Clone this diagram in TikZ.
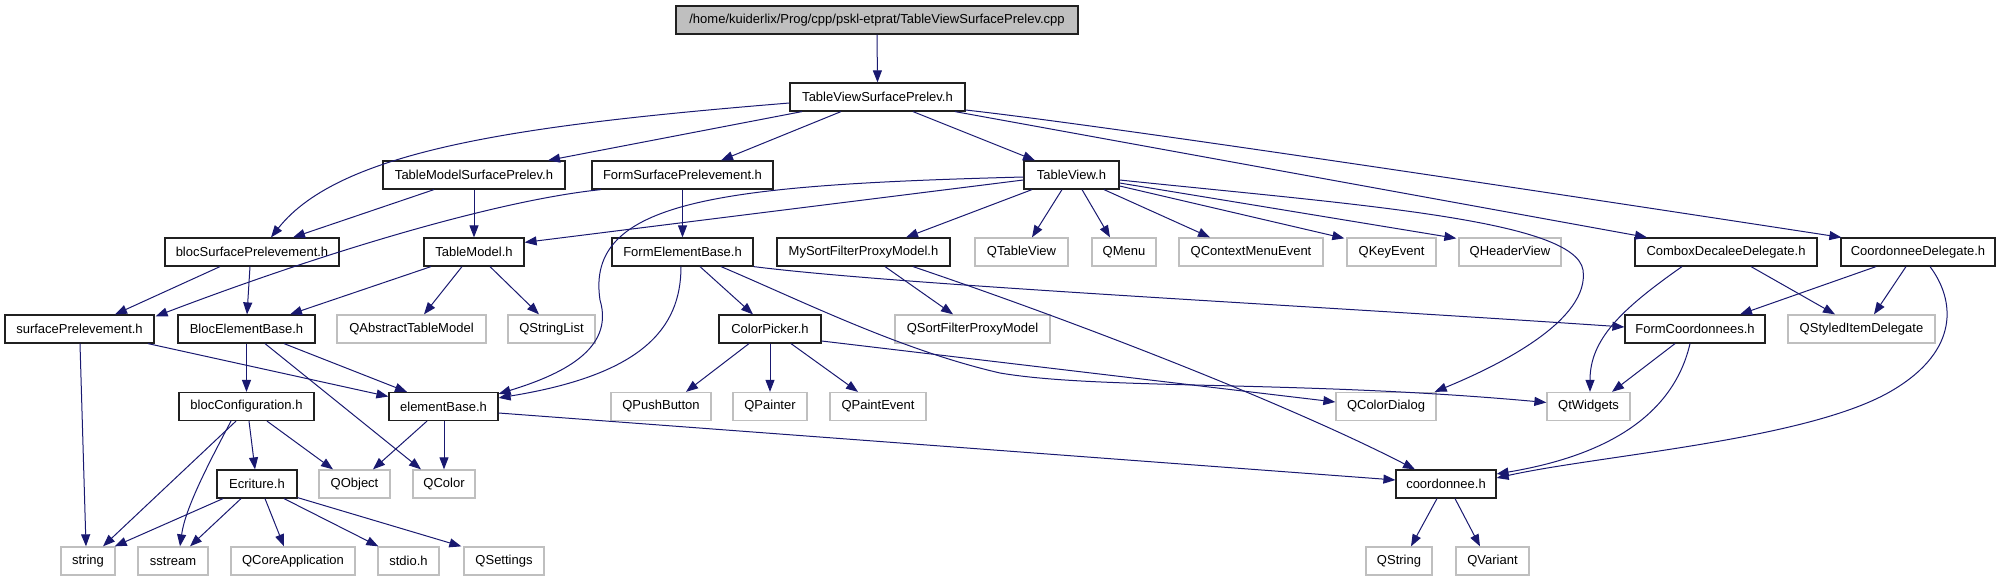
\documentclass[tikz,border=0pt]{standalone}
\usepackage{fontspec}
\newfontfamily\lab{Liberation Sans}
\usetikzlibrary{arrows.meta}
\definecolor{edgecol}{HTML}{191970}
\definecolor{gbord}{HTML}{BFBFBF}
\definecolor{bbord}{HTML}{202020}
\begin{document}
\begin{tikzpicture}[x=1pt,y=-1pt,
  base/.style={inner sep=0pt, minimum height=28pt, font=\lab\fontsize{13}{15}\selectfont, text=black},
  nb/.style={base, draw=bbord, line width=1.2pt, fill=white},
  ng/.style={base, draw=gbord, line width=1.3pt, fill=white},
  nroot/.style={base, draw=bbord, line width=1.2pt, fill=gbord},
  e/.style={draw=edgecol, line width=1pt, -{Triangle[length=12pt,width=9pt]}}]
\useasboundingbox (0,0) rectangle (2001,581);
% row 0
\node[nroot, minimum width=402pt] (root) at (877,20) {/home/kuiderlix/Prog/cpp/pskl-etprat/TableViewSurfacePrelev.cpp};
% row 1
\node[nb, minimum width=175pt] (tvsp) at (877.5,97) {TableViewSurfacePrelev.h};
% row 2
\node[nb, minimum width=182pt] (tmsp) at (474,175) {TableModelSurfacePrelev.h};
\node[nb, minimum width=181pt] (fsp) at (682.5,175) {FormSurfacePrelevement.h};
\node[nb, minimum width=95pt] (tv) at (1071.5,175) {TableView.h};
% row 3
\node[nb, minimum width=174pt] (bsp) at (252,252) {blocSurfacePrelevement.h};
\node[nb, minimum width=100pt] (tm) at (474,252) {TableModel.h};
\node[nb, minimum width=141pt] (feb) at (682.5,252) {FormElementBase.h};
\node[nb, minimum width=173pt] (msf) at (863.5,252) {MySortFilterProxyModel.h};
\node[ng, minimum width=93pt] (qtv) at (1021.5,252) {QTableView};
\node[ng, minimum width=64pt] (qmenu) at (1124,252) {QMenu};
\node[ng, minimum width=144pt] (qcme) at (1251,252) {QContextMenuEvent};
\node[ng, minimum width=89pt] (qke) at (1391.5,252) {QKeyEvent};
\node[ng, minimum width=102pt] (qhv) at (1510,252) {QHeaderView};
\node[nb, minimum width=182pt] (cdd) at (1726,252) {ComboxDecaleeDelegate.h};
\node[nb, minimum width=154pt] (cd) at (1918,252) {CoordonneeDelegate.h};
% row 4
\node[nb, minimum width=149pt] (sp) at (79.5,329) {surfacePrelevement.h};
\node[nb, minimum width=137pt] (beb) at (246.5,329) {BlocElementBase.h};
\node[ng, minimum width=149pt] (qatm) at (411.5,329) {QAbstractTableModel};
\node[ng, minimum width=87pt] (qsl) at (551.5,329) {QStringList};
\node[nb, minimum width=102pt] (cp) at (770,329) {ColorPicker.h};
\node[ng, minimum width=155pt] (qsf) at (972.5,329) {QSortFilterProxyModel};
\node[nb, minimum width=140pt] (fc) at (1695,329) {FormCoordonnees.h};
\node[ng, minimum width=147pt] (qsid) at (1861.5,329) {QStyledItemDelegate};
% row 5
\node[nb, minimum width=135pt] (bc) at (246.5,406.5) {blocConfiguration.h};
\node[nb, minimum width=109pt] (eb) at (443.5,406.5) {elementBase.h};
\node[ng, minimum width=100pt] (qpb) at (661,406.5) {QPushButton};
\node[ng, minimum width=74pt] (qpainter) at (770,406.5) {QPainter};
\node[ng, minimum width=96pt] (qpe) at (878,406.5) {QPaintEvent};
\node[ng, minimum width=100pt] (qcd) at (1386,406.5) {QColorDialog};
\node[ng, minimum width=83pt] (qtw) at (1588.5,406.5) {QtWidgets};
% row 6
\node[nb, minimum width=80pt] (ecr) at (257,484) {Ecriture.h};
\node[ng, minimum width=71pt] (qobj) at (354.5,484) {QObject};
\node[ng, minimum width=62pt] (qcol) at (444,484) {QColor};
\node[nb, minimum width=100pt] (coord) at (1446,484) {coordonnee.h};
% row 7
\node[ng, minimum width=54pt] (str) at (88,561) {string};
\node[ng, minimum width=70pt] (sst) at (173,561) {sstream};
\node[ng, minimum width=124pt] (qca) at (293,561) {QCoreApplication};
\node[ng, minimum width=61pt] (stdio) at (408.5,561) {stdio.h};
\node[ng, minimum width=80pt] (qset) at (504,561) {QSettings};
\node[ng, minimum width=66pt] (qstr) at (1399,561) {QString};
\node[ng, minimum width=73pt] (qvar) at (1492.5,561) {QVariant};

% edges
\draw[e] (root.south) -- (tvsp.north);
\draw[e] ([yshift=-6pt]tvsp.west) .. controls (520,125) and (340,150) .. ([xshift=19pt]bsp.north);
\draw[e] ([xshift=-75.5pt]tvsp.south) -- ([xshift=74pt]tmsp.north);
\draw[e] ([xshift=-36.5pt]tvsp.south) -- ([xshift=38.5pt]fsp.north);
\draw[e] ([xshift=35.5pt]tvsp.south) -- ([xshift=-36.5pt]tv.north);
\draw[e] ([xshift=77.5pt]tvsp.south) -- ([xshift=-79pt]cdd.north);
\draw[e] ([yshift=-13pt]tvsp.east) .. controls (1100,125) and (1500,185) .. ([xshift=1pt]cd.north west);
\draw[e] ([xshift=-40pt]tmsp.south) -- ([xshift=41pt]bsp.north);
\draw[e] (tmsp.south) -- (tm.north);
\draw[e] ([xshift=-81.5pt]fsp.south) .. controls (500,200) and (330,250) .. ([xshift=1pt,yshift=-2pt]sp.north east);
\draw[e] (fsp.south) -- (feb.north);
\draw[e] ([xshift=-32pt]bsp.south) -- ([xshift=35.5pt]sp.north);
\draw[e] ([xshift=-2pt]bsp.south) -- ([xshift=0.5pt]beb.north);
\draw[e] ([xshift=-43pt]tm.south) -- ([xshift=43.5pt]beb.north);
\draw[e] ([xshift=-12pt]tm.south) -- ([xshift=12.5pt]qatm.north);
\draw[e] ([xshift=16pt]tm.south) -- ([xshift=-12.5pt]qsl.north);
% TableView.h
\draw[e] ([yshift=-5pt]tv.west) -- ([yshift=-5pt]tm.north east);
\draw[e] ([yshift=-2pt]tv.west) .. controls (720,185) and (585,200) .. (600,300)
   .. controls (615,350) and (560,375) .. ([yshift=-2pt]eb.north east);
\draw[e] ([xshift=-39.5pt]tv.south) -- ([xshift=42.5pt]msf.north);
\draw[e] ([xshift=-9.5pt]tv.south) -- ([xshift=10.5pt]qtv.north);
\draw[e] ([xshift=10.5pt]tv.south) -- ([xshift=-14pt]qmenu.north);
\draw[e] ([xshift=32.5pt]tv.south) -- ([xshift=-41pt]qcme.north);
\draw[e] ([yshift=-11pt]tv.east) -- ([xshift=-2pt,yshift=-1pt]qke.north west);
\draw[e] ([yshift=-8pt]tv.east) -- ([xshift=-2pt,yshift=-1pt]qhv.north west);
\draw[e] ([yshift=-5pt]tv.east) .. controls (1360,205) and (1575,220) .. (1583,270)
   .. controls (1590,320) and (1500,365) .. ([xshift=-2pt]qcd.north east);
% FormElementBase.h
\draw[e] ([xshift=-1.5pt]feb.south) .. controls (681,330) and (640,375) .. ([yshift=-6pt]eb.north east);
\draw[e] ([xshift=17.5pt]feb.south) -- ([xshift=-17pt]cp.north);
\draw[e] ([xshift=38.5pt]feb.south) .. controls (800,300) and (900,350) .. (1000,373)
   .. controls (1100,390) and (1300,380) .. ([yshift=4pt]qtw.west);
\draw[e] (feb.south east) .. controls (900,285) and (1300,305) .. ([yshift=2pt]fc.west);
% MySortFilterProxyModel.h
\draw[e] ([xshift=21.5pt]msf.south) -- ([xshift=-19.5pt]qsf.north);
\draw[e] ([xshift=49.5pt]msf.south) .. controls (1100,330) and (1300,410) .. ([xshift=-31pt]coord.north);
% ColorPicker.h
\draw[e] ([xshift=-21pt]cp.south) -- ([xshift=25pt]qpb.north);
\draw[e] (cp.south) -- (qpainter.north);
\draw[e] ([xshift=21pt]cp.south) -- ([xshift=-20pt]qpe.north);
\draw[e] ([yshift=-12pt]cp.east) -- ([yshift=4.5pt]qcd.west);
% surfacePrelevement.h
\draw[e] ([xshift=0.5pt]sp.south) -- ([xshift=-2pt]str.north);
\draw[e] ([xshift=68.5pt]sp.south) -- ([yshift=10pt]eb.west);
% BlocElementBase.h
\draw[e] (beb.south) -- (bc.north);
\draw[e] ([xshift=37.5pt]beb.south) -- ([xshift=-36.5pt]eb.north);
\draw[e] ([xshift=18.5pt]beb.south) -- ([xshift=-23pt]qcol.north);
% blocConfiguration.h
\draw[e] ([xshift=-10.5pt]bc.south) -- ([xshift=15pt]str.north);
\draw[e] ([xshift=-15.5pt]bc.south) .. controls (205,470) and (185,510) .. ([xshift=7pt]sst.north);
\draw[e] ([xshift=2.5pt]bc.south) -- ([xshift=-2pt]ecr.north);
\draw[e] ([xshift=20.5pt]bc.south) -- ([xshift=-21.5pt]qobj.north);
% elementBase.h
\draw[e] ([xshift=-16.5pt]eb.south) -- ([xshift=18.5pt]qobj.north);
\draw[e] ([xshift=0.5pt]eb.south) -- (qcol.north);
\draw[e] ([yshift=-6.5pt]eb.east) -- ([yshift=4pt]coord.west);
% Ecriture.h
\draw[e] ([xshift=-34pt]ecr.south) -- ([xshift=-1pt]str.north east);
\draw[e] ([xshift=-16pt]ecr.south) -- ([xshift=17pt]sst.north);
\draw[e] ([xshift=8pt]ecr.south) -- ([xshift=-9pt]qca.north);
\draw[e] ([xshift=27pt]ecr.south) -- ([xshift=1pt]stdio.north west);
\draw[e] ([yshift=1pt]ecr.south east) -- ([xshift=-2pt]qset.north west);
% ComboxDecaleeDelegate.h
\draw[e] ([xshift=-44pt]cdd.south) .. controls (1620,310) and (1590,340) .. ([xshift=1.5pt]qtw.north);
\draw[e] ([xshift=25pt]cdd.south) -- ([xshift=-26.5pt]qsid.north);
% CoordonneeDelegate.h
\draw[e] ([xshift=-42pt]cd.south) -- ([xshift=45pt]fc.north);
\draw[e] ([xshift=-12pt]cd.south) -- ([xshift=12.5pt]qsid.north);
\draw[e] ([xshift=12pt]cd.south) .. controls (1955,300) and (1960,350) .. (1893,390)
   .. controls (1810,440) and (1600,455) .. ([yshift=6pt]coord.east);
% FormCoordonnees.h
\draw[e] ([xshift=-20pt]fc.south) -- ([xshift=23.5pt]qtw.north);
\draw[e] ([xshift=-5pt]fc.south) .. controls (1670,430) and (1580,460) .. ([yshift=10pt]coord.east);
% coordonnee.h
\draw[e] ([xshift=-9pt]coord.south) -- ([xshift=12pt]qstr.north);
\draw[e] ([xshift=9pt]coord.south) -- ([xshift=-12.5pt]qvar.north);
\end{tikzpicture}
\end{document}
